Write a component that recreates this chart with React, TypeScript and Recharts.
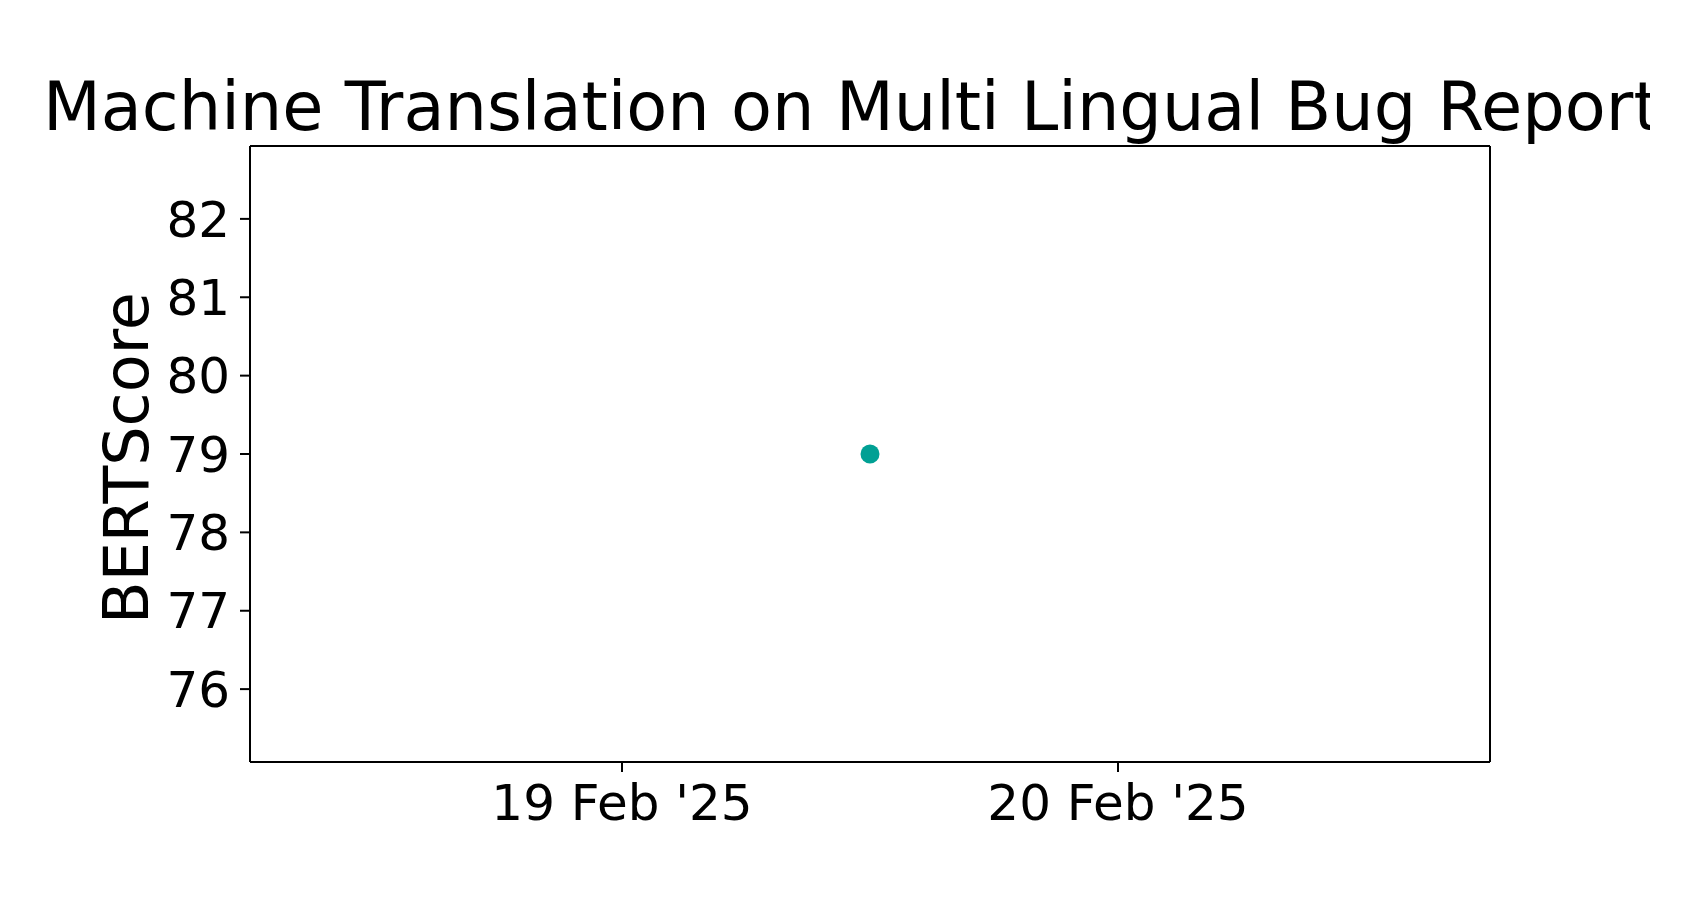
import React from 'react';
import { ScatterChart, Scatter, XAxis, YAxis, ReferenceLine } from 'recharts';

// one evaluation run, x as UTC date strings
const runDates = ['2025-02-19T12:00:00Z'];
const bertScores = [79];

const xTicks = ['2025-02-19T00:00:00Z', '2025-02-20T00:00:00Z'];
const yTicks = [76, 77, 78, 79, 80, 81, 82];

const xDomain = ['2025-02-18T06:00:00Z', '2025-02-20T18:00:00Z'];
const yDomain = [75.07, 82.93];

const MONTHS = ['Jan', 'Feb', 'Mar', 'Apr', 'May', 'Jun', 'Jul', 'Aug', 'Sep', 'Oct', 'Nov', 'Dec'];
const FONT = '"DejaVu Sans", sans-serif';
const TEAL = '#00a094';

const data = runDates.map((d, i) => ({ x: Date.parse(d), y: bertScores[i] }));

function formatDate(v: number) {
    const d = new Date(v);
    const yy = String(d.getUTCFullYear()).slice(2);
    return `${d.getUTCDate()} ${MONTHS[d.getUTCMonth()]} '${yy}`;
}

const YLabel = (props: any) => {
    const vb = props.viewBox || { x: 100, y: 146, width: 150, height: 616 };
    const cy = vb.y + vb.height / 2 + 4;
    return (
        <text
            transform={`translate(148,${cy}) rotate(-90)`}
            textAnchor="middle"
            fontFamily={FONT}
            fontSize={62}
            fill="#000"
        >
            BERTScore
        </text>
    );
};

export default function App() {
    const xd = xDomain.map((d) => Date.parse(d));
    return (
        <div style={{ position: 'absolute', left: 0, top: 0, width: 1700, height: 900, background: '#fff' }}>
            <svg width={1700} height={900} style={{ position: 'absolute', left: 0, top: 0 }}>
                <defs>
                    <clipPath id="titleClip">
                        <rect x={0} y={0} width={1650} height={150} />
                    </clipPath>
                </defs>
                <text x={43} y={130} fontFamily={FONT} fontSize={67} fill="#000" clipPath="url(#titleClip)">
                    Machine Translation on Multi Lingual Bug Reports
                </text>
            </svg>
            <div style={{ position: 'absolute', left: 0, top: 0 }}>
                <ScatterChart width={1700} height={900} margin={{ top: 146, right: 210, bottom: 38, left: 100 }}>
                    <XAxis
                        dataKey="x"
                        type="number"
                        domain={xd}
                        ticks={xTicks.map((t) => Date.parse(t))}
                        tickFormatter={formatDate}
                        height={100}
                        axisLine={{ stroke: '#000', strokeWidth: 2 }}
                        tickLine={{ stroke: '#000', strokeWidth: 2 }}
                        tickSize={10}
                        tickMargin={12}
                        tick={{ fill: '#000', fontSize: 50, fontFamily: FONT }}
                        allowDataOverflow
                    />
                    <YAxis
                        dataKey="y"
                        type="number"
                        domain={yDomain}
                        ticks={yTicks}
                        width={150}
                        axisLine={{ stroke: '#000', strokeWidth: 2 }}
                        tickLine={{ stroke: '#000', strokeWidth: 2 }}
                        tickSize={10}
                        tickMargin={10}
                        tick={{ fill: '#000', fontSize: 50, fontFamily: FONT }}
                        label={<YLabel />}
                        allowDataOverflow
                    />
                    <ReferenceLine y={yDomain[1]} stroke="#000" strokeWidth={2} />
                    <ReferenceLine x={xd[1]} stroke="#000" strokeWidth={2} />
                    <Scatter
                        data={data}
                        fill={TEAL}
                        isAnimationActive={false}
                        shape={(p: any) => <circle cx={p.cx} cy={p.cy} r={9.5} fill={TEAL} />}
                    />
                </ScatterChart>
            </div>
        </div>
    );
}
